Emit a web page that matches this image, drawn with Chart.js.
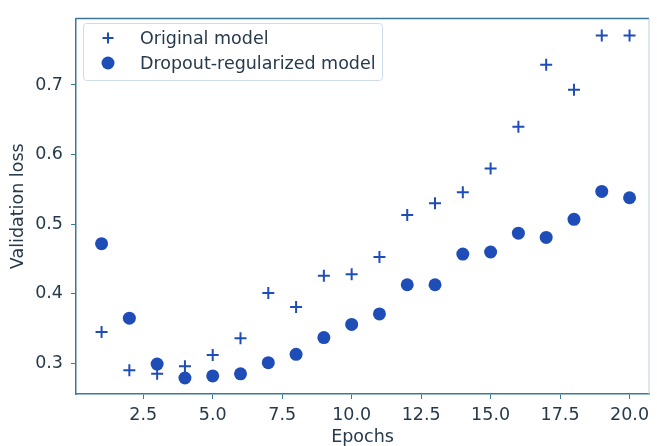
<!DOCTYPE html>
<html>
<head>
<meta charset="utf-8">
<script src="https://cdn.jsdelivr.net/npm/chart.js@4.4.1/dist/chart.umd.min.js"></script>
<style>
  html, body { margin: 0; padding: 0; background: #fff; }
  #wrap { width: 657px; height: 446px; }
</style>
</head>
<body>
<div id="wrap"><canvas id="lossChart" width="657" height="446"></canvas></div>
<script>
const epochs = [1, 2, 3, 4, 5, 6, 7, 8, 9, 10, 11, 12, 13, 14, 15, 16, 17, 18, 19, 20];
const originalLoss = [0.345, 0.290, 0.285, 0.296, 0.312, 0.336, 0.401, 0.381, 0.426, 0.428,
                      0.453, 0.513, 0.530, 0.546, 0.580, 0.640, 0.729, 0.693, 0.771, 0.771];
const dropoutLoss = [0.472, 0.365, 0.299, 0.279, 0.282, 0.285, 0.301, 0.313, 0.337, 0.356,
                     0.371, 0.413, 0.413, 0.457, 0.460, 0.487, 0.481, 0.507, 0.547, 0.538];
const xTicks = [2.5, 5.0, 7.5, 10.0, 12.5, 15.0, 17.5, 20.0];
const yTicks = [0.3, 0.4, 0.5, 0.6, 0.7];

const markerColor = '#1f4db8';
const spineColor = '#3c7896';
const textColor = '#263a4b';
const fontFamily = '"DejaVu Sans", sans-serif';
const fontSize = 17.5;

// top + right spines and the legend box inside the plot
const framePlugin = {
    id: 'frame',
    afterDraw(chart) {
        const ctx = chart.ctx;
        const a = chart.chartArea;
        ctx.save();
        ctx.strokeStyle = spineColor;
        ctx.lineWidth = 1.5;
        ctx.beginPath();
        ctx.moveTo(a.left, a.top);
        ctx.lineTo(a.right, a.top);
        ctx.stroke();
        ctx.strokeStyle = '#b9cfdc';
        ctx.lineWidth = 1;
        ctx.beginPath();
        ctx.moveTo(a.right, a.top);
        ctx.lineTo(a.right, a.bottom);
        ctx.stroke();

        // legend
        const lx = 83, ly = 23, lw = 299, lh = 57;
        ctx.strokeStyle = '#cdddea';
        ctx.lineWidth = 1;
        ctx.beginPath();
        ctx.roundRect(lx + 0.5, ly + 0.5, lw, lh, 3);
        ctx.stroke();
        ctx.font = fontSize + 'px ' + fontFamily;
        ctx.textBaseline = 'middle';
        chart.data.datasets.forEach((ds, i) => {
            const cy = 38 + i * 25;
            const cx = 108;
            ctx.strokeStyle = markerColor;
            ctx.fillStyle = markerColor;
            if (ds.pointStyle === 'cross') {
                ctx.lineWidth = 2;
                ctx.beginPath();
                ctx.moveTo(cx - 5.5, cy); ctx.lineTo(cx + 5.5, cy);
                ctx.moveTo(cx, cy - 5.5); ctx.lineTo(cx, cy + 5.5);
                ctx.stroke();
            } else {
                ctx.beginPath();
                ctx.arc(cx, cy, 6.5, 0, Math.PI * 2);
                ctx.fill();
            }
            ctx.fillStyle = textColor;
            ctx.fillText(ds.label, 140, cy + 1);
        });
        ctx.restore();
    }
};

new Chart(document.getElementById('lossChart'), {
    type: 'scatter',
    data: {
        datasets: [{
            label: 'Original model',
            data: epochs.map((e, i) => ({ x: e, y: originalLoss[i] })),
            pointStyle: 'cross',
            pointRadius: 6,
            borderColor: markerColor,
            backgroundColor: markerColor,
            borderWidth: 2
        }, {
            label: 'Dropout-regularized model',
            data: epochs.map((e, i) => ({ x: e, y: dropoutLoss[i] })),
            pointStyle: 'circle',
            pointRadius: 6.5,
            borderWidth: 0,
            borderColor: markerColor,
            backgroundColor: markerColor
        }]
    },
    options: {
        responsive: false,
        animation: false,
        layout: { padding: { top: 15, right: 5, left: 0, bottom: 0 } },
        plugins: {
            legend: { display: false },
            tooltip: { enabled: false }
        },
        scales: {
            x: {
                type: 'linear',
                min: 0.08,
                max: 20.7,
                afterBuildTicks: s => { s.ticks = xTicks.map(v => ({ value: v })); },
                afterFit: s => { s.height = 52; },
                border: { color: spineColor, width: 1.5 },
                grid: { drawOnChartArea: false, drawTicks: true, tickLength: 5, color: spineColor },
                ticks: {
                    color: textColor,
                    font: { family: fontFamily, size: fontSize },
                    padding: 6,
                    maxRotation: 0,
                    callback: v => v.toFixed(1)
                },
                title: {
                    display: true,
                    text: 'Epochs',
                    color: textColor,
                    font: { family: fontFamily, size: fontSize, lineHeight: 1 },
                    padding: { top: 0, bottom: 0 }
                }
            },
            y: {
                min: 0.256,
                max: 0.7955,
                afterBuildTicks: s => { s.ticks = yTicks.map(v => ({ value: v })); },
                afterFit: s => { s.width = 76; },
                border: { color: spineColor, width: 1.5 },
                grid: { drawOnChartArea: false, drawTicks: true, tickLength: 5, color: spineColor },
                ticks: {
                    color: textColor,
                    font: { family: fontFamily, size: fontSize },
                    padding: 8,
                    callback: v => v.toFixed(1)
                },
                title: {
                    display: true,
                    text: 'Validation loss',
                    color: textColor,
                    font: { family: fontFamily, size: fontSize },
                    padding: { top: 8, bottom: 0 }
                }
            }
        }
    },
    plugins: [framePlugin]
});
</script>
</body>
</html>
